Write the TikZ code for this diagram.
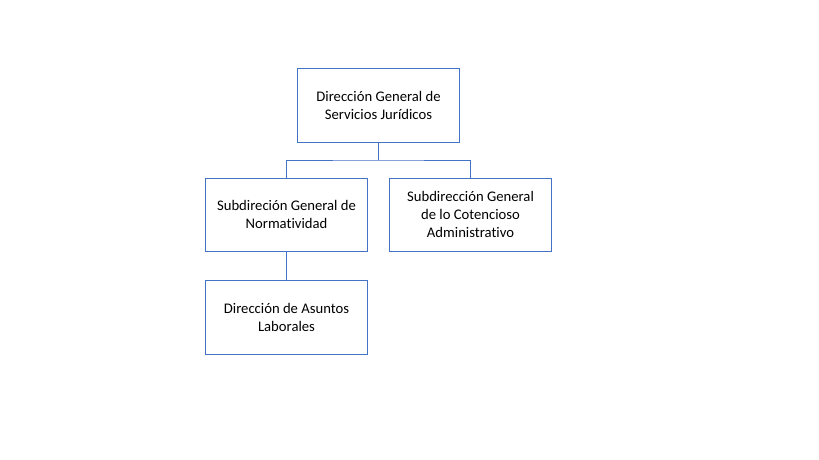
\documentclass[tikz,border=0pt]{standalone}
\usepackage{fontspec}
\setmainfont[Ligatures=NoCommon]{Carlito}
\definecolor{orgblue}{HTML}{4472C4}
\begin{document}
\begin{tikzpicture}[ x = 1pt, y = -1pt,
		unitbox/.style = { draw = orgblue, line width = 0.8pt, minimum width = 162pt, minimum height = 73.5pt, align = center, inner sep = 0pt, font = \fontsize{14.67}{17.9}\selectfont },
		link/.style = { draw = orgblue, line width = 0.8pt } ]
		\useasboundingbox ( 0, 0 ) rectangle ( 819, 460 );

		% dirección general
		\node [ unitbox ] (general) at ( 378.5, 105.3 ) {Dirección General de\\Servicios Jurídicos};

		% subdirecciones
		\node [ unitbox ] (normatividad) at ( 286.5, 214.8 ) {Subdireción General de\\Normatividad};
		\node [ unitbox ] (contencioso) at ( 470.5, 214.8 ) {Subdirección General\\de lo Cotencioso\\Administrativo};

		% dirección de asuntos laborales
		\node [ unitbox ] (laborales) at ( 286.5, 317.3 ) {Dirección de Asuntos\\Laborales};

		% conectores
		\coordinate (bus) at ( 378.5, 160 );
		\draw [ link ] (general.south) -- (bus);
		\draw [ link ] (normatividad.north) |- (bus) -| (contencioso.north);
		\draw [ link ] (normatividad.south) -- (laborales.north);
	\end{tikzpicture}
\end{document}
